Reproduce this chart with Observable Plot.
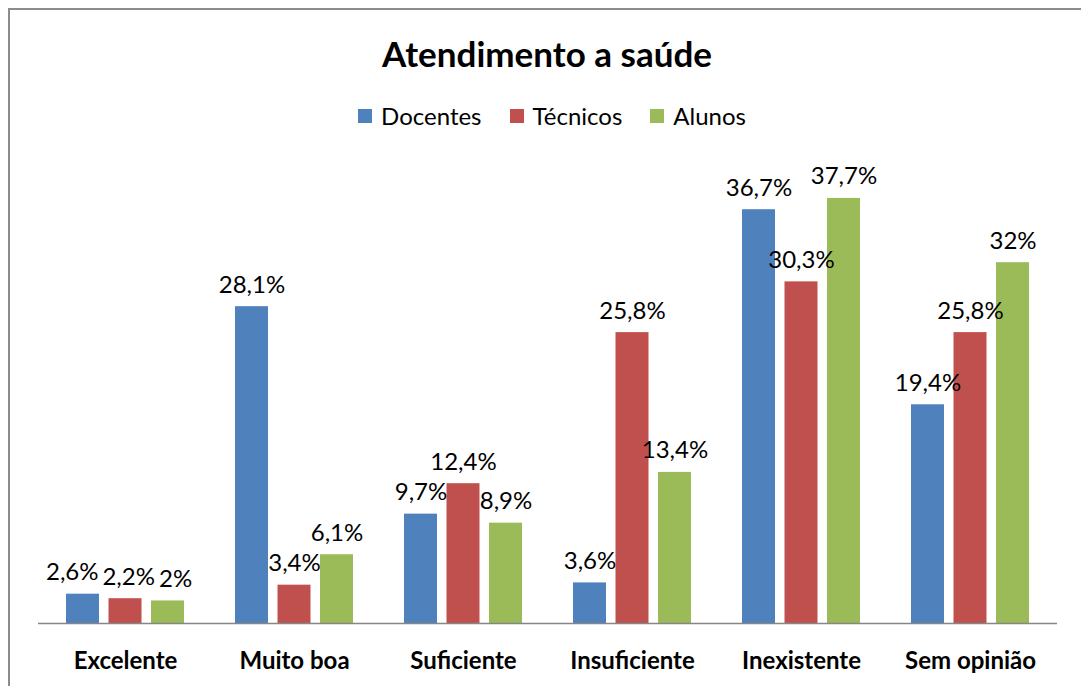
<!DOCTYPE html>
<html>
<head>
<meta charset="utf-8">
<script src="https://cdn.jsdelivr.net/npm/d3@7"></script>
<script src="https://cdn.jsdelivr.net/npm/@observablehq/plot@0.6"></script>
<style>
  html, body { margin: 0; padding: 0; background: #fff; overflow: hidden; }
  body { width: 1081px; height: 686px; position: relative; font-family: Lato, "Open Sans", sans-serif; }
  #frame { position: absolute; left: 8px; top: 8px; width: 1100px; height: 700px;
           border-top: 2px solid #8c8c8c; border-left: 2px solid #8c8c8c; }
  #title { position: absolute; left: 0; top: 36px; width: 1094px; text-align: center;
           font-size: 35px; font-weight: bold; line-height: 35px; color: #000; }
  #legend { position: absolute; left: 0; top: 103px; width: 1104px; display: flex; justify-content: center;
            gap: 28px; font-size: 24px; line-height: 26px; color: #000; }
  #legend span.item { display: flex; align-items: center; }
  #legend span.sw { display: inline-block; width: 14px; height: 14px; margin-right: 9px; }
  #chart { position: absolute; left: 0; top: 140px; }
</style>
</head>
<body>
<div id="frame"></div>
<div id="title">Atendimento a saúde</div>
<div id="legend"></div>
<div id="chart"></div>
<script>
const categories = ["Excelente", "Muito boa", "Suficiente", "Insuficiente", "Inexistente", "Sem opinião"];
const series = ["Docentes", "Técnicos", "Alunos"];
const docentes = [2.6, 28.1, 9.7, 3.6, 36.7, 19.4];
const tecnicos = [2.2, 3.4, 12.4, 25.8, 30.3, 25.8];
const alunos = [2, 6.1, 8.9, 13.4, 37.7, 32];
const colors = ["#4F81BD", "#C0504D", "#9BBB59"];

const valuesBySeries = [docentes, tecnicos, alunos];
const data = [];
series.forEach((s, i) => {
  categories.forEach((c, j) => {
    data.push({category: c, series: s, si: i, value: valuesBySeries[i][j]});
  });
});
const fmt = d => String(d.value).replace(".", ",") + "%";

// legend
const legend = document.getElementById("legend");
series.forEach((s, i) => {
  const item = document.createElement("span");
  item.className = "item";
  const sw = document.createElement("span");
  sw.className = "sw";
  sw.style.background = colors[i];
  item.appendChild(sw);
  item.appendChild(document.createTextNode(s));
  legend.appendChild(item);
});

const W = 1081, H = 546, mT = 32, mB = 63, yMax = 40;
const step = 42.5;
const inset = 42.5;
const labelSize = 24;
const ppu = (H - mT - mB) / yMax;

// label collision avoidance (like the spreadsheet's label placement)
const ctx = document.createElement("canvas").getContext("2d");
ctx.font = `${labelSize}px Lato`;
const labelOffset = new Map();
categories.forEach(c => {
  const group = data.filter(d => d.category === c).sort((a, b) => a.si - b.si);
  const cx = group.map(d => (d.si - 1) * step);
  const w = group.map(d => ctx.measureText(fmt(d)).width);
  for (let pass = 0; pass < 4; pass++) {
    for (let i = 0; i < group.length - 1; i++) {
      if (Math.abs(group[i].value - group[i + 1].value) * ppu >= 22) continue;
      const ov = (cx[i] + w[i] / 2 + 4) - (cx[i + 1] - w[i + 1] / 2);
      if (ov > 0) { cx[i] -= ov / 2; cx[i + 1] += ov / 2; }
    }
  }
  group.forEach((d, i) => labelOffset.set(d, cx[i]));
});

const marks = [];
series.forEach((s, i) => {
  const sub = data.filter(d => d.series === s);
  marks.push(Plot.barY(sub, {x: "category", y: "value", fill: "series", insetLeft: inset, insetRight: inset, dx: (i - 1) * step}));
});
marks.push(Plot.ruleY([0], {stroke: "#868686", strokeWidth: 1.5}));
data.forEach(d => {
  marks.push(Plot.text([d], {x: "category", y: "value", text: fmt, dx: labelOffset.get(d), dy: -14, lineAnchor: "bottom", fontSize: labelSize, fill: "#000"}));
});
marks.push(Plot.axisX({tickSize: 0, tickPadding: 28, fontSize: 24, fontWeight: "bold", fill: "#000"}));

const chart = Plot.plot({
  width: W,
  height: H,
  marginLeft: 38,
  marginRight: 24,
  marginTop: mT,
  marginBottom: mB,
  style: {fontFamily: "Lato, 'Open Sans', sans-serif", color: "#000", background: "transparent", overflow: "visible"},
  x: {domain: categories, paddingInner: 0.3, paddingOuter: 0.15, label: null},
  y: {domain: [0, yMax], axis: null},
  color: {domain: series, range: colors},
  marks
});
document.getElementById("chart").appendChild(chart);
</script>
</body>
</html>
